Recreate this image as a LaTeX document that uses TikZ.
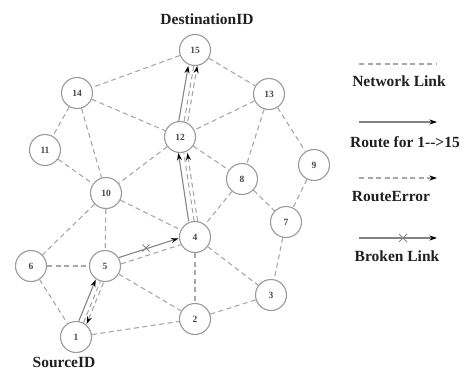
\documentclass[tikz,border=0pt]{standalone}
\usepackage{fontspec}
\setmainfont{Liberation Serif}
\usetikzlibrary{arrows.meta}
\definecolor{linkgray}{HTML}{A8A8A8}
\definecolor{routegray}{HTML}{858585}
\definecolor{ringgray}{HTML}{9A9A9A}
\begin{document}
\begin{tikzpicture}[x=1pt,y=-1pt,
  vert/.style={circle,draw=ringgray,line width=1.1pt,minimum size=31pt,inner sep=0pt,
    font=\fontsize{9.5}{9.5}\selectfont\bfseries,text=black!72},
  netlink/.style={draw=linkgray,dash pattern=on 5pt off 3.5pt,line width=1.1pt},
  tip/.style={-{Stealth[length=7.5pt,width=5pt,black]}},
  route/.style={draw=routegray,line width=1.1pt,tip},
  rerr/.style={netlink,tip},
  brk/.style={draw=routegray,line width=0.9pt},
  lbl/.style={font=\fontsize{15.5}{16}\selectfont\bfseries,text=black!88,inner sep=0pt}]
\useasboundingbox (0,0) rectangle (468,372);
% nodes
\node[vert] (n15) at (195,50) {15};
\node[vert] (n14) at (77,93) {14};
\node[vert] (n13) at (269,94) {13};
\node[vert] (n12) at (180,137) {12};
\node[vert] (n11) at (45,150) {11};
\node[vert] (n9) at (314,165) {9};
\node[vert] (n8) at (242,179) {8};
\node[vert] (n10) at (106,193) {10};
\node[vert] (n7) at (286,222) {7};
\node[vert] (n4) at (195,237) {4};
\node[vert] (n6) at (31,266) {6};
\node[vert] (n5) at (105,266) {5};
\node[vert] (n3) at (271,295) {3};
\node[vert] (n2) at (195,319) {2};
\node[vert] (n1) at (76,337) {1};
% network links
\foreach \a/\b in {15/14,15/13,14/12,13/12,14/11,14/10,11/10,12/10,12/8,13/8,13/9,9/7,8/7,8/4,10/4,10/5,10/6,6/5,6/1,5/2,1/2,2/3,4/3,4/2,7/3}
  \draw[netlink] (n\a) -- (n\b);
% route 1 -> 5
\draw[route,transform canvas={shift={(-3.2,-1.3)}}] (n1) -- (n5);
\draw[netlink,transform canvas={shift={(1.4,0.6)}}] (n1) -- (n5);
\draw[rerr,transform canvas={shift={(4.6,1.8)}}] (n5) -- (n1);
% broken link 5 -> 4
\draw[route,transform canvas={shift={(-1.2,-3.6)}}] (n5) -- (n4);
\draw[netlink,transform canvas={shift={(0.9,2.8)}}] (n5) -- (n4);
\coordinate (bx) at (146,248);
\draw[brk] ([shift={(-3.5,-3.5)}]bx) -- ([shift={(3.5,3.5)}]bx);
\draw[brk] ([shift={(-3.5,3.5)}]bx) -- ([shift={(3.5,-3.5)}]bx);
% route 4 -> 12
\draw[route,transform canvas={xshift=-4pt}] (n4) -- (n12);
\draw[netlink,transform canvas={xshift=1.5pt}] (n4) -- (n12);
\draw[rerr,transform canvas={xshift=5pt}] (n4) -- (n12);
% route 12 -> 15
\draw[route,transform canvas={xshift=-4pt}] (n12) -- (n15);
\draw[netlink,transform canvas={xshift=1.5pt}] (n12) -- (n15);
\draw[rerr,transform canvas={xshift=5pt}] (n12) -- (n15);
% labels
\node[lbl] (dst) at (207,19) {DestinationID};
\node[lbl] (src) at (64,362) {SourceID};
% legend
\coordinate (l1a) at (359,64); \coordinate (l1b) at (437,64);
\draw[netlink] (l1a) -- (l1b);
\node[lbl] (t1) at (399,81) {Network Link};
\coordinate (l2a) at (359,122); \coordinate (l2b) at (437,122);
\draw[route] (l2a) -- (l2b);
\node[lbl] (t2) at (405,142) {Route for 1-{}->15};
\coordinate (l3a) at (359,178); \coordinate (l3b) at (437,178);
\draw[rerr] (l3a) -- (l3b);
\node[lbl] (t3) at (391,197) {RouteError};
\coordinate (l4a) at (359,238); \coordinate (l4b) at (437,238);
\draw[route] (l4a) -- (l4b);
\coordinate (lx) at (403,238);
\draw[brk] ([shift={(-4,-4)}]lx) -- ([shift={(4,4)}]lx);
\draw[brk] ([shift={(-4,4)}]lx) -- ([shift={(4,-4)}]lx);
\node[lbl] (t4) at (397,256) {Broken Link};
\end{tikzpicture}
\end{document}
